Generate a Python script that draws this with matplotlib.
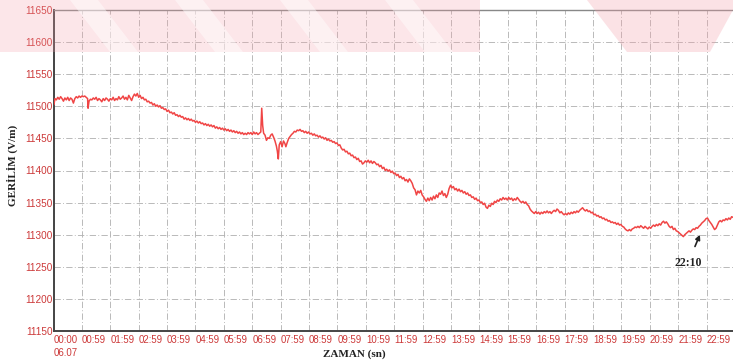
import matplotlib
matplotlib.use("Agg")
import matplotlib.pyplot as plt
from matplotlib.patches import Polygon, Rectangle

# Measurement times (minutes after 00:00 on 06.07) and field strength (V/m)
minutes = [
    0, 2, 5, 8, 11, 14, 17, 20, 23, 26,
    29, 32, 35, 38, 41, 44, 47, 50, 53, 56,
    59, 62, 65, 68, 71, 72, 74, 77, 80, 83,
    86, 89, 92, 95, 98, 101, 104, 107, 110, 113,
    116, 119, 122, 125, 128, 131, 134, 137, 140, 143,
    146, 149, 152, 155, 158, 161, 164, 167, 170, 173,
    176, 179, 182, 185,
    188, 191, 194, 197, 200, 203, 206, 209, 212, 215,
    218, 221, 224, 227, 230, 233, 236, 239, 242, 245,
    248, 251, 254, 257, 260, 263, 266, 269, 272, 275,
    278, 281, 284, 287, 290, 293, 296, 299, 302, 305,
    308, 311, 314, 317, 320, 323, 326, 329, 332, 335,
    338, 341, 344, 347, 350, 353, 356, 359, 362, 365,
    368, 371, 374, 377, 380, 383, 386, 389, 392, 395,
    398, 401, 404, 407, 410, 413, 416, 419, 422, 425,
    428, 431, 434, 437, 439, 441, 443, 446, 449, 452,
    455, 458, 461, 464, 467, 470, 472, 474, 476, 479,
    482, 485, 488, 490, 493, 496, 499, 502, 505, 508,
    511, 514, 517, 520, 523, 526, 529, 532, 535, 538,
    541, 544, 547, 550, 553, 556, 559, 562, 565, 568,
    571, 574, 577, 580, 583, 586, 589, 592, 595, 598,
    601, 604, 607, 610, 613, 616, 619, 622, 625, 628,
    631, 634, 637, 640, 643, 646, 649, 652, 655, 658,
    661, 664, 667, 670, 673, 676, 679, 682, 685, 688,
    691, 694, 697, 700, 703, 706, 709, 712, 715, 718,
    721, 724, 727, 730, 733, 736, 739, 742, 745, 748,
    751, 754, 757, 760, 763, 766, 769, 772, 775, 778,
    781, 784, 787, 790, 793, 796, 799, 802, 805, 808,
    811, 814, 817, 820, 823, 826, 829, 832, 835, 838,
    841, 844, 847, 850, 853, 856, 859, 862, 865, 868,
    871, 874, 877, 880, 883, 886, 889, 892, 895, 898,
    901, 904, 907, 910, 913, 916, 919, 922, 925, 928,
    931, 934, 937, 940, 943, 946, 949, 952, 955, 958,
    961, 964, 967, 970, 973, 976, 979, 982, 985, 988,
    991, 994, 997, 1000, 1003, 1006, 1009, 1012, 1015, 1018,
    1021, 1024, 1027, 1030, 1033, 1036, 1039, 1042, 1045, 1048,
    1051, 1054, 1057, 1060, 1063, 1066, 1069, 1072, 1075, 1078,
    1081, 1084, 1087, 1090, 1093, 1096, 1099, 1102, 1105, 1108,
    1111, 1114, 1117, 1120, 1123, 1126, 1129, 1132, 1135, 1138,
    1141, 1144, 1147, 1150, 1153, 1156, 1159, 1162, 1165, 1168,
    1171, 1174, 1177, 1180, 1183, 1186, 1189, 1192, 1195, 1198,
    1201, 1204, 1207, 1210, 1213, 1216, 1219, 1222, 1225, 1228,
    1231, 1234, 1237, 1240, 1243, 1246, 1249, 1252, 1255, 1258,
    1261, 1264, 1267, 1270, 1273, 1276, 1279, 1282, 1285, 1288,
    1291, 1294, 1297, 1300, 1303, 1306, 1309, 1312, 1315, 1318,
    1321, 1324, 1327, 1330, 1333, 1336, 1339, 1342, 1345, 1348,
    1351, 1354, 1357, 1360, 1363, 1366, 1369, 1372, 1375, 1378,
    1381, 1384, 1387, 1390, 1393, 1396, 1399, 1402, 1405, 1408,
    1411, 1414, 1417, 1420, 1423, 1426, 1429, 1432, 1435,
]
voltage = [
    11503, 11512, 11510, 11514, 11511, 11515, 11512, 11508, 11513, 11510,
    11514, 11509, 11513, 11511, 11505, 11512, 11515, 11513, 11516, 11514,
    11516, 11515, 11516, 11514, 11512, 11497, 11508, 11511, 11510, 11513,
    11511, 11514, 11509, 11512, 11510, 11507, 11512, 11509, 11513, 11511,
    11508, 11512, 11510, 11514, 11509, 11512, 11510, 11515, 11511, 11513,
    11516, 11511, 11514, 11510, 11517, 11513, 11509, 11515, 11519, 11516,
    11520, 11514, 11517, 11512,
    11514, 11510, 11511, 11507, 11508, 11505, 11506, 11502, 11504, 11500,
    11502, 11499, 11501, 11497, 11498, 11495, 11496, 11492, 11494, 11490,
    11491, 11488, 11490, 11486, 11487, 11484, 11486, 11483, 11484, 11480,
    11482, 11479, 11481, 11478, 11480, 11477, 11478, 11475, 11477, 11474,
    11476, 11473, 11474, 11471, 11473, 11470, 11472, 11469, 11471, 11468,
    11470, 11466, 11468, 11465, 11467, 11464, 11466, 11463, 11465, 11462,
    11464, 11461, 11463, 11460, 11462, 11459, 11461, 11458, 11460, 11457,
    11459, 11456, 11458, 11456, 11459, 11457, 11459, 11456, 11460, 11457,
    11459, 11456, 11458, 11460, 11497, 11470, 11458, 11455, 11447, 11451,
    11450, 11455, 11457, 11452, 11446, 11438, 11430, 11418, 11440, 11445,
    11437, 11446, 11442, 11437, 11444, 11450, 11453, 11456, 11458, 11461,
    11460, 11463, 11462, 11464, 11461, 11462, 11459, 11461, 11458, 11460,
    11457, 11458, 11455, 11457, 11454, 11455, 11452, 11454, 11451, 11452,
    11449, 11451, 11447, 11449, 11446, 11447, 11444, 11445, 11442, 11443,
    11439, 11440, 11435, 11432, 11433, 11429, 11430, 11426, 11427, 11423,
    11424, 11420, 11421, 11417, 11419, 11414, 11415, 11410, 11412, 11415,
    11413, 11416, 11412, 11415, 11411, 11414, 11412, 11409, 11410, 11406,
    11408, 11403, 11405, 11400, 11402, 11399, 11401, 11397, 11399, 11395,
    11396, 11392, 11394, 11389, 11391, 11387, 11389, 11384, 11386, 11382,
    11387, 11384, 11380, 11373, 11370, 11362, 11368, 11365, 11369, 11362,
    11359, 11355, 11352, 11357, 11353, 11358, 11354, 11360, 11356, 11362,
    11358, 11365, 11363, 11368, 11361, 11364, 11358, 11363, 11372, 11377,
    11373, 11375, 11370, 11372, 11368, 11371, 11367, 11369, 11365, 11367,
    11363, 11365, 11361, 11362, 11358, 11359, 11355, 11357, 11353, 11354,
    11350, 11351, 11347, 11349, 11343, 11341, 11346, 11344, 11349, 11347,
    11352, 11350, 11354, 11352, 11356, 11354, 11358, 11355, 11357, 11354,
    11358, 11355, 11357, 11353, 11356, 11354, 11358, 11355, 11352, 11350,
    11352, 11349, 11351, 11347, 11345, 11340, 11337, 11335, 11333, 11336,
    11333, 11335, 11332, 11335, 11333, 11336, 11334, 11337, 11334, 11336,
    11333, 11336, 11338, 11336, 11340, 11338, 11334, 11336, 11333, 11331,
    11333, 11331, 11334, 11332, 11335, 11333, 11336, 11334, 11337, 11335,
    11338, 11340, 11342, 11339, 11337, 11339, 11336, 11337, 11334, 11335,
    11331, 11332, 11329, 11330, 11327, 11328, 11325, 11326, 11323, 11324,
    11321, 11322, 11319, 11320, 11318, 11319, 11316, 11318, 11315, 11316,
    11313, 11312, 11309, 11307, 11306, 11308, 11306, 11309, 11310, 11312,
    11311, 11313, 11311, 11314, 11312, 11310, 11313, 11311, 11309, 11312,
    11310, 11313, 11315, 11313, 11316, 11314, 11317, 11315, 11319, 11321,
    11318, 11320, 11317, 11313, 11311, 11313, 11308, 11310, 11306, 11305,
    11303, 11301, 11299, 11297, 11300, 11302, 11304, 11306, 11304, 11307,
    11309, 11308, 11311, 11310, 11313, 11315, 11318, 11320, 11322, 11325,
    11326, 11322, 11319, 11316, 11312, 11308, 11310, 11315, 11320, 11322,
    11320, 11323, 11322, 11325, 11323, 11326, 11324, 11328, 11327,
]
assert len(minutes) == len(voltage)

y_ticks = [11150, 11200, 11250, 11300, 11350, 11400, 11450, 11500, 11550, 11600, 11650]
x_ticks = [0] + [h * 60 + 59 for h in range(23)]
x_labels = ["00:00\n06.07"] + ["%02d:59" % h for h in range(23)]

W, H = 733, 362
fig = plt.figure(figsize=(W / 100, H / 100), dpi=100)
fig.patch.set_facecolor("white")

ax = fig.add_axes([54 / W, 1 - 331 / H, (735.4 - 54) / W, (331 - 10) / H])
ax.set_xlim(0, 1440)
ax.set_ylim(11150, 11650)

ax.plot(minutes, voltage, color="#f04545", lw=1.1, zorder=3)

label_red = "#cc3838"
ax.set_yticks(y_ticks)
ax.set_yticklabels([str(v) for v in y_ticks], color=label_red,
                   fontsize=7.2, family="Liberation Sans")
ax.set_xticks(x_ticks)
ax.set_xticklabels(x_labels, color=label_red, fontsize=6.9,
                   family="Liberation Sans", ha="left", linespacing=1.35)
ax.tick_params(axis="both", length=0)
ax.tick_params(axis="y", pad=1)
ax.tick_params(axis="x", pad=3)

ax.grid(True, color="#b4b4b4", lw=0.65, linestyle=(0, (7, 2.5, 1, 2.5)))
ax.set_axisbelow(True)

for side in ("left", "bottom"):
    ax.spines[side].set_color("#444444")
    ax.spines[side].set_linewidth(1.4)
ax.spines["top"].set_color("#888888")
ax.spines["top"].set_linewidth(1.0)
ax.spines["right"].set_visible(False)

fig.text(12 / W, 1 - 165 / H, "GERİLİM (V/m)", rotation=90, ha="center",
         va="center", fontsize=8, fontweight="bold", family="Liberation Serif",
         color="#222222")
fig.text(354 / W, 1 - 354 / H, "ZAMAN (sn)", ha="center", va="center",
         fontsize=8, fontweight="bold", family="Liberation Serif",
         color="#222222")

ax.annotate("22:10", xy=(1365, 11300), xytext=(1340, 11256),
            ha="center", va="center", fontsize=8.5, fontweight="bold",
            family="Liberation Serif", color="#222222",
            arrowprops=dict(arrowstyle="-|>", color="#222222", lw=1.2,
                            mutation_scale=7, shrinkA=6, shrinkB=0))

# faint pink stamp band across the top of the sheet
def px_poly(points, color, alpha):
    pts = [(x / W, 1 - y / H) for x, y in points]
    fig.patches.append(Polygon(pts, closed=True, transform=fig.transFigure,
                               facecolor=color, edgecolor="none", alpha=alpha,
                               zorder=5))

fig.patches.append(Rectangle((0, 1 - 52 / H), 480 / W, 52 / H,
                             transform=fig.transFigure, facecolor="#f4a0aa",
                             edgecolor="none", alpha=0.26, zorder=5))
for x0 in (70, 175, 280, 385):
    px_poly([(x0, 0), (x0 + 28, 0), (x0 + 68, 52), (x0 + 40, 52)], "white", 0.45)
px_poly([(587, 0), (733, 0), (733, 10), (710, 52), (627, 52)], "#f4a0aa", 0.30)

fig.savefig("out.png", dpi=100, facecolor="white")
